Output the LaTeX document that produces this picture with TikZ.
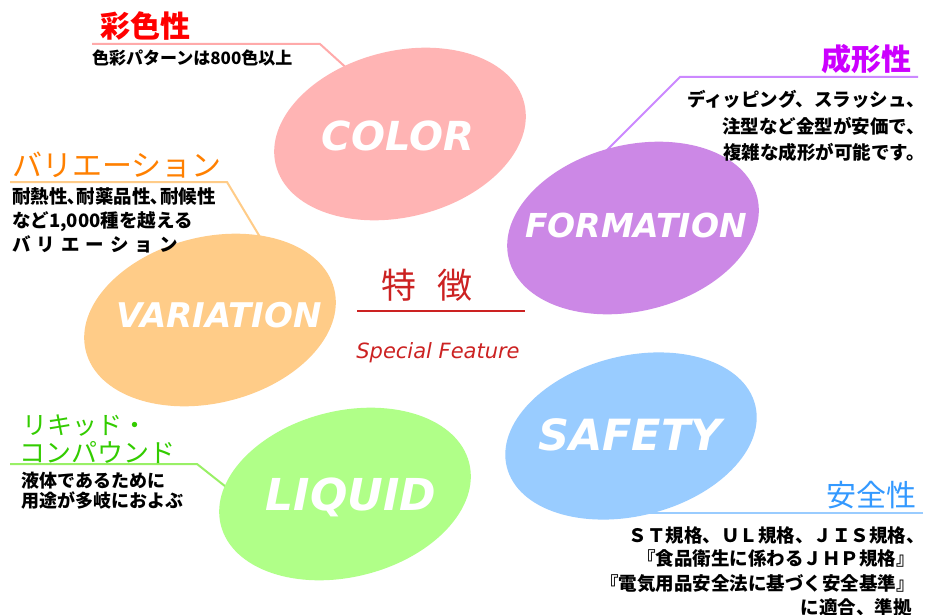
\documentclass[tikz,border=0pt]{standalone}
\usepackage{fontspec}
\usetikzlibrary{shapes.geometric}
\newfontfamily\jp{Noto Sans CJK JP}
\newfontfamily\dv{DejaVu Sans}
\newcommand\myfs[1]{\fontsize{#1}{#1}\selectfont}
\definecolor{ePink}{RGB}{255,180,180}
\definecolor{ePurple}{RGB}{204,136,230}
\definecolor{eOrange}{RGB}{255,204,136}
\definecolor{eGreen}{RGB}{176,255,136}
\definecolor{eBlue}{RGB}{153,204,255}
\definecolor{lPink}{RGB}{255,170,170}
\definecolor{lPurple}{RGB}{204,136,255}
\definecolor{lOrange}{RGB}{255,204,136}
\definecolor{lGreen}{RGB}{153,240,102}
\definecolor{lBlue}{RGB}{153,204,255}
\definecolor{tRed}{RGB}{255,0,0}
\definecolor{tPurple}{RGB}{204,0,255}
\definecolor{tOrange}{RGB}{255,128,0}
\definecolor{tGreen}{RGB}{51,204,0}
\definecolor{tBlue}{RGB}{51,153,255}
\definecolor{cRed}{RGB}{204,34,34}
\tikzset{
  ell/.style={ellipse, inner sep=0pt, minimum width=256pt, minimum height=166pt, rotate=14},
  etxt/.style={text=white, inner sep=0pt, anchor=base},
  lead/.style={line width=2pt},
  ttl/.style={inner sep=0pt},
  dsc/.style={inner sep=0pt, text=black, font=\jp\bfseries\myfs{18.5}},
}
\begin{document}
\begin{tikzpicture}[x=1pt,y=-1pt]
\useasboundingbox (0,0) rectangle (926,615);
\fill[white] (0,0) rectangle (926,615);
% coordinates for leaders
\coordinate (cA) at (92,44);   \coordinate (cB) at (320,44);  \coordinate (cC) at (352,73);
\coordinate (fA) at (918,77);  \coordinate (fB) at (680,77);  \coordinate (fC) at (602,155);
\coordinate (vA) at (10,182);  \coordinate (vB) at (227,182); \coordinate (vC) at (263,242);
\coordinate (lA) at (10,464);  \coordinate (lB) at (197,464); \coordinate (lC) at (240,498);
\coordinate (sA) at (923,513); \coordinate (sB) at (650,513);
\draw[lead, lPink] (cA) -- (cB) -- (cC);
\draw[lead, lPurple] (fA) -- (fB) -- (fC);
\draw[lead, lOrange] (vA) -- (vB) -- (vC);
\draw[lead, lGreen] (lA) -- (lB) -- (lC);
\draw[lead, lBlue] (sA) -- (sB);
% ellipses
\node[ell, fill=ePink] (colorE) at (400,134) {};
\node[ell, fill=ePurple] (formE) at (633,228) {};
\node[ell, fill=eOrange] (varE) at (210,320) {};
\node[ell, fill=eGreen] (liqE) at (345,494) {};
\node[ell, fill=eBlue, minimum height=160pt] (safE) at (631,436) {};
% ellipse texts
\node[etxt, font=\dv\bfseries\itshape\myfs{40}] (colorT) at (398,150) {COLOR};
\node[etxt, font=\dv\bfseries\itshape\myfs{33}] (formT) at (636,237) {FORMATION};
\node[etxt, font=\dv\bfseries\itshape\myfs{34}] (varT) at (219,327) {VARIATION};
\node[etxt, font=\dv\bfseries\itshape\myfs{44}] (liqT) at (351,510) {LIQUID};
\node[etxt, font=\dv\bfseries\itshape\myfs{43}] (safT) at (630,450) {SAFETY};
% titles
\node[ttl, anchor=base west, text=tRed, font=\jp\bfseries\myfs{30}] (colorH) at (100,38) {彩色性};
\node[ttl, anchor=base east, text=tPurple, font=\jp\bfseries\myfs{30}] (formH) at (912,71) {成形性};
\node[ttl, anchor=base west, text=tOrange, font=\jp\myfs{30}] (varH) at (12,176) {バリエーション};
\node[ttl, anchor=base west, text=tGreen, font=\jp\myfs{25}] (liqH1) at (22,434) {リキッド・};
\node[ttl, anchor=base west, text=tGreen, font=\jp\myfs{26}] (liqH2) at (19,462) {コンパウンド};
\node[ttl, anchor=base east, text=tBlue, font=\jp\myfs{30}] (safH) at (917,506) {安全性};
% descriptions
\node[dsc, anchor=base west, font=\jp\bfseries\myfs{17}] (colorD) at (92,65) {色彩パターンは800色以上};
\node[dsc, anchor=base east] (formD1) at (925,107) {ディッピング、スラッシュ、};
\node[dsc, anchor=base east] (formD2) at (925,134) {注型など金型が安価で、};
\node[dsc, anchor=base east] (formD3) at (925,160) {複雑な成形が可能です。};
\node[dsc, anchor=base west] (varD1) at (12,203) {耐熱性､耐薬品性､耐候性};
\node[dsc, anchor=base west] (varD2) at (12,227) {など1,000種を越える};
\node[dsc, anchor=base west] (varD3) at (12,251) {バ\hspace{6pt}リ\hspace{6pt}エ\hspace{6pt}ー\hspace{6pt}シ\hspace{6pt}ョ\hspace{6pt}ン};
\node[dsc, anchor=base west, font=\jp\bfseries\myfs{18}] (liqD1) at (21,487) {液体であるために};
\node[dsc, anchor=base west, font=\jp\bfseries\myfs{18}] (liqD2) at (21,507) {用途が多岐におよぶ};
\node[dsc, anchor=base east] (safD1) at (925,542) {ＳＴ規格、ＵＬ規格、ＪＩＳ規格、};
\node[dsc, anchor=base east] (safD2) at (915,565) {『食品衛生に係わるＪＨＰ規格』};
\node[dsc, anchor=base east] (safD3) at (915,590) {『電気用品安全法に基づく安全基準』};
\node[dsc, anchor=base east] (safD4) at (912,614) {に適合、準拠};
% center
\node[ttl, anchor=base west, text=cRed, font=\jp\myfs{35}] (feat) at (381,298) {特\hspace{21pt}徴};
\coordinate (rL) at (357,311); \coordinate (rR) at (525,311);
\draw[line width=1.5pt, cRed] (rL) -- (rR);
\node[ttl, anchor=base, text=cRed, font=\dv\itshape\myfs{21}] (sf) at (438,358) {Special Feature};
\end{tikzpicture}
\end{document}
